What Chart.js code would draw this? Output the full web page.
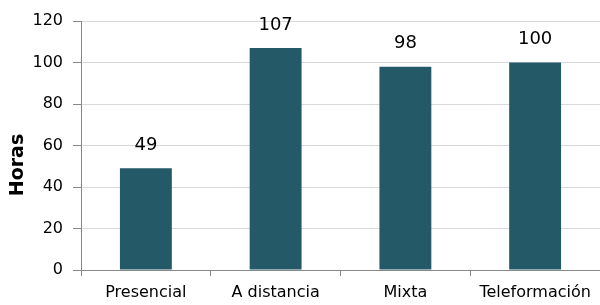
<!DOCTYPE html>
<html>
<head>
<meta charset="utf-8">
<script src="https://cdn.jsdelivr.net/npm/chart.js@4/dist/chart.umd.min.js"></script>
<style>
  html, body { margin: 0; padding: 0; background: #fff; }
  #wrap { width: 600px; height: 305px; }
</style>
</head>
<body>
<div id="wrap"><canvas id="chart" width="600" height="305"></canvas></div>
<script>
var categories = ["Presencial", "A distancia", "Mixta", "Teleformación"];
var horas = [49, 107, 98, 100];
var yTicks = [0, 20, 40, 60, 80, 100, 120];
var yTitle = "Horas";

var barColor = "#245a68";
var fontName = "'DejaVu Sans', Verdana, sans-serif";

// etiquetas encima de cada barra + titulo del eje Y (un poco bajo el centro, como en el original)
var valueLabels = {
    id: 'valueLabels',
    afterDatasetsDraw: function (chart) {
        var ctx = chart.ctx;
        var meta = chart.getDatasetMeta(0);
        ctx.save();
        ctx.font = "18px " + fontName;
        ctx.fillStyle = "#000";
        ctx.textAlign = "center";
        ctx.textBaseline = "middle";
        meta.data.forEach(function (bar, i) {
            ctx.fillText(String(horas[i]), bar.x, bar.y - 23);
        });

        ctx.translate(18, 165);
        ctx.rotate(-Math.PI / 2);
        ctx.font = "bold 19px " + fontName;
        ctx.fillText(yTitle, 0, 0);
        ctx.restore();
    }
};

new Chart(document.getElementById("chart"), {
    type: 'bar',
    data: {
        labels: categories,
        datasets: [{
            label: yTitle,
            data: horas,
            backgroundColor: barColor,
            barPercentage: 0.4,
            categoryPercentage: 1.0
        }]
    },
    options: {
        responsive: false,
        animation: false,
        layout: { padding: { top: 21, right: 0, left: 0, bottom: 0 } },
        plugins: {
            legend: { display: false },
            tooltip: { enabled: false }
        },
        scales: {
            x: {
                offset: true,
                afterFit: function (axis) { axis.height = 35; },
                grid: {
                    offset: true,
                    drawOnChartArea: false,
                    drawTicks: true,
                    tickLength: 6,
                    color: "#888"
                },
                border: { color: "#888", width: 1 },
                ticks: {
                    color: "#000",
                    padding: 7,
                    maxRotation: 0,
                    font: { family: fontName, size: 16 }
                }
            },
            y: {
                min: 0,
                max: 120,
                afterFit: function (axis) { axis.width = 81; },
                afterBuildTicks: function (axis) {
                    axis.ticks = yTicks.map(function (v) { return { value: v }; });
                },
                grid: {
                    color: "#d9d9d9",
                    tickColor: "#888",
                    tickLength: 8
                },
                border: { color: "#888", width: 1 },
                ticks: {
                    color: "#000",
                    padding: 10,
                    font: { family: fontName, size: 16 }
                }
            }
        }
    },
    plugins: [valueLabels]
});
</script>
</body>
</html>
